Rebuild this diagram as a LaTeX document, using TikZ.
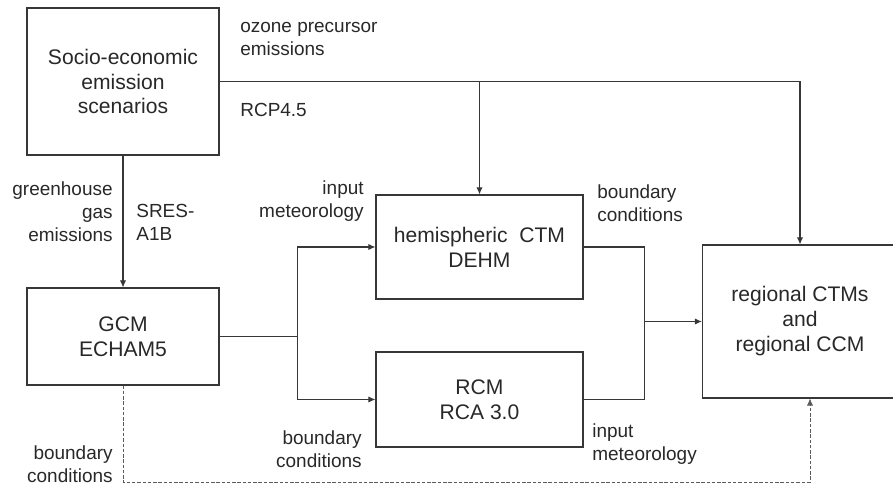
\documentclass[tikz,border=0pt]{standalone}
\usepackage{fontspec}
\setmainfont{Liberation Sans}
\usepackage{tikz}
\usetikzlibrary{arrows.meta, positioning, calc}
\definecolor{linegrey}{RGB}{55,55,55}
\definecolor{textgrey}{RGB}{40,40,40}
\definecolor{dashgrey}{RGB}{90,90,90}

\begin{document}
\begin{tikzpicture}[
  model/.style={rectangle, draw=linegrey, semithick, align=center,
              text=textgrey, font=\fontsize{12}{14.2}\selectfont},
  arr/.style={-{Latex[length=4pt,width=3.5pt]}, semithick, linegrey},
  ln/.style={semithick, linegrey},
  darr/.style={-{Latex[length=4pt,width=3.5pt]}, thin, dashgrey,
              dash pattern=on 2pt off 1pt},
  lbl/.style={font=\fontsize{10.8}{13}\selectfont, text=textgrey,
              inner sep=0pt}
]
\useasboundingbox (0,0) rectangle (17.86,-9.74);

% ── Model boxes ────────────────────────────────────────────────
\node[model, minimum width=3.84cm, minimum height=2.94cm] (socio)
  at (2.46,-1.63) {Socio-economic\\emission\\scenarios};
\node[model, minimum width=3.84cm, minimum height=1.94cm] (gcm)
  at (2.46,-6.73) {GCM\\ECHAM5};
\node[model, minimum width=4.14cm, minimum height=2.08cm] (hemi)
  at (9.59,-4.94) {hemispheric\ \ CTM\\DEHM};
\node[model, minimum width=4.14cm, minimum height=1.90cm] (rcm)
  at (9.59,-7.99) {RCM\\RCA 3.0};
\node[model, minimum width=3.90cm, minimum height=3.06cm] (regional)
  at (16.00,-6.43) {regional CTMs\\and\\regional CCM};

% ── Junctions ──────────────────────────────────────────────────
\coordinate (split) at ($(gcm.east)+(1.56,0)$);
\coordinate (merge) at ($(regional.west)-(1.15,0)$);
\coordinate (bcup)  at (16.20,-9.64);

% ── Emission arrows ────────────────────────────────────────────
\draw[arr] (socio.east) -| (regional.north);
\draw[arr] (hemi.north |- socio.east) -- (hemi.north);
\draw[arr] (socio.south) -- (gcm.north);

% ── GCM output to CTM and RCM ──────────────────────────────────
\draw[ln]  (gcm.east) -- (split);
\draw[arr] (split) |- (hemi.west);
\draw[arr] (split) |- (rcm.west);

% ── CTM and RCM to regional models ─────────────────────────────
\draw[ln]  (hemi.east) -| (merge) |- (rcm.east);
\draw[arr] (merge) -- (regional.west);
\draw[darr] (gcm.south) |- (bcup) -- (regional.south -| bcup);

% ── Labels ─────────────────────────────────────────────────────
\node[lbl, anchor=west, align=left] (ozone) at (4.80,-0.78)
  {ozone precursor\\emissions};
\node[lbl, anchor=west] (rcp) at (4.80,-2.20) {RCP4.5};
\node[lbl, anchor=east, align=right] (ghg) at (2.26,-4.24)
  {greenhouse\\gas\\emissions};
\node[lbl, anchor=west, align=left] (sres) at (2.72,-4.45)
  {SRES-\\A1B};
\node[lbl, anchor=east, align=right] (inmet1) at (7.28,-4.02)
  {input\\meteorology};
\node[lbl, anchor=west, align=left] (bc1) at (11.94,-4.06)
  {boundary\\conditions};
\node[lbl, anchor=east, align=right] (bc2) at (7.24,-8.98)
  {boundary\\conditions};
\node[lbl, anchor=west, align=left] (inmet2) at (11.84,-8.88)
  {input\\meteorology};
\node[lbl, anchor=east, align=right] (bc3) at (2.26,-9.28)
  {boundary\\conditions};

\end{tikzpicture}
\end{document}
